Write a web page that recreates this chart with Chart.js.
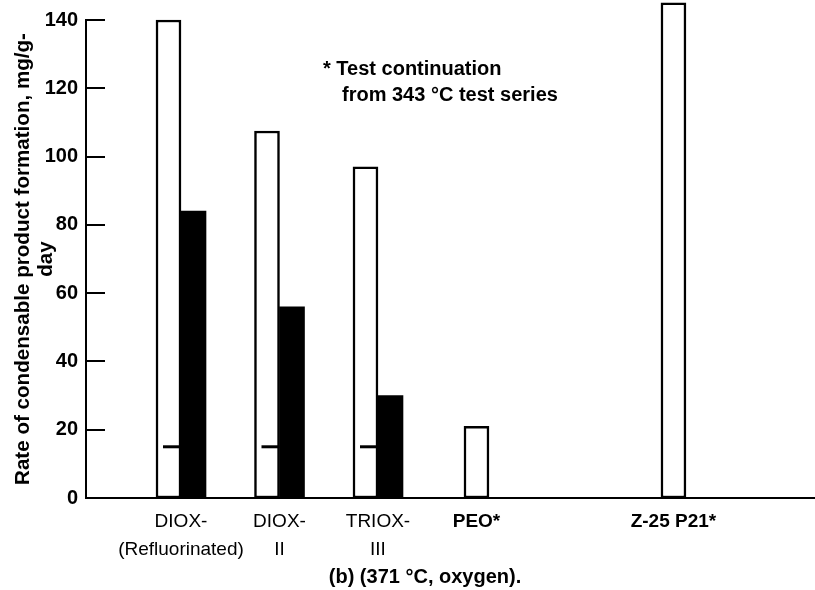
<!DOCTYPE html>
<html><head><meta charset="utf-8">
<script src="https://cdn.jsdelivr.net/npm/chart.js@4"></script>
<style>html,body{margin:0;padding:0;background:#fff}#wrap{width:815px;height:590px}</style>
</head><body><div id="wrap"><canvas id="c" width="815" height="590"></canvas></div>
<script>
// ---- data ----
const categories = [['DIOX-', '(Refluorinated)'], ['DIOX-', 'II'], ['TRIOX-', 'III'], 'PEO*', '', 'Z-25 P21*'];
const openBarValues   = [140, 107.5, 97, 21, null, 145];
const filledBarValues = [84, 56, 30, null, null, null];
const markerValues    = [15, 15, 15, null, null, null];
const yTickValues = [0, 20, 40, 60, 80, 100, 120, 140];
const yTitle = ['Rate of condensable product formation, mg/g-', 'day'];
const noteLines = ['* Test continuation', 'from 343 °C test series'];
const caption = '(b) (371 °C, oxygen).';

const FONT = "'Liberation Sans', Arial, Helvetica, sans-serif";
const toPoints = vals => vals.map((v, i) => ({ x: i, y: v }));

const decor = {
  id: 'decor',
  afterDatasetsDraw(chart) {
    const { ctx, scales: { y } } = chart;
    const meta = chart.getDatasetMeta(0);
    ctx.save();
    ctx.strokeStyle = '#000';
    ctx.lineWidth = 3;
    markerValues.forEach((v, i) => {
      if (v == null) return;
      const bar = meta.data[i];
      const py = y.getPixelForValue(v);
      ctx.beginPath();
      ctx.moveTo(bar.x - bar.width * 0.22, py);
      ctx.lineTo(bar.x + bar.width / 2, py);
      ctx.stroke();
    });
    ctx.restore();
  },
  afterDraw(chart) {
    const { ctx, scales: { y }, chartArea } = chart;
    ctx.save();
    ctx.strokeStyle = '#000';
    ctx.lineWidth = 2;
    yTickValues.forEach(v => {
      const py = Math.round(y.getPixelForValue(v));
      ctx.beginPath();
      ctx.moveTo(chartArea.left, py);
      ctx.lineTo(chartArea.left + 19, py);
      ctx.stroke();
    });
    ctx.fillStyle = '#000';
    ctx.font = "bold 20px " + FONT;
    ctx.textBaseline = 'middle';
    ctx.textAlign = 'left';
    ctx.fillText(noteLines[0], 323, 69);
    ctx.fillText(noteLines[1], 342, 95);
    ctx.textAlign = 'center';
    ctx.fillText(caption, 425, 577);
    ctx.restore();
  }
};

new Chart(document.getElementById('c'), {
  type: 'bar',
  data: {
    datasets: [
      {
        label: 'open',
        data: toPoints(openBarValues),
        backgroundColor: '#fff',
        borderColor: '#000',
        borderWidth: 2.5,
        borderSkipped: false,
        barThickness: 25,
        skipNull: true,
        clip: false
      },
      {
        label: 'filled',
        data: toPoints(filledBarValues),
        backgroundColor: '#000',
        borderColor: '#000',
        borderWidth: 0,
        barThickness: 25,
        skipNull: true,
        clip: false
      }
    ]
  },
  options: {
    responsive: false,
    devicePixelRatio: 1,
    animation: false,
    layout: { padding: { top: 20, left: 0, right: 0, bottom: 0 } },
    plugins: { legend: { display: false }, tooltip: { enabled: false }, title: { display: false } },
    scales: {
      x: {
        type: 'linear',
        offset: false,
        min: -0.9645,
        max: 6.437,
        afterFit: s => { s.height = 92; s.paddingLeft = 0; s.paddingRight = 0; },
        grid: { display: false, drawTicks: false },
        border: { display: true, color: '#000', width: 2 },
        ticks: {
          stepSize: 1,
          includeBounds: false,
          autoSkip: false,
          maxRotation: 0,
          minRotation: 0,
          padding: 10,
          color: '#000',
          font: ctx => {
            const v = ctx.tick ? ctx.tick.value : 0;
            const bold = (v === 3 || v === 5);
            return { family: FONT, size: 19, weight: bold ? 'bold' : 'normal', lineHeight: 1.45 };
          },
          callback: v => (Number.isInteger(v) && categories[v] !== undefined) ? categories[v] : ''
        }
      },
      y: {
        min: 0,
        max: 140,
        afterFit: s => { s.width = 86; s.paddingTop = 0; s.paddingBottom = 0; },
        afterBuildTicks: s => { s.ticks = yTickValues.map(v => ({ value: v })); },
        grid: { display: false, drawTicks: false },
        border: { display: true, color: '#000', width: 2 },
        ticks: {
          padding: 8,
          color: '#000',
          font: { family: FONT, size: 20, weight: 'bold' }
        },
        title: {
          display: true,
          text: yTitle,
          color: '#000',
          font: { family: FONT, size: 20.6, weight: 'bold', lineHeight: 1.12 },
          padding: { top: 11.5, bottom: 0 }
        }
      }
    }
  },
  plugins: [decor]
});
</script>
</body></html>
